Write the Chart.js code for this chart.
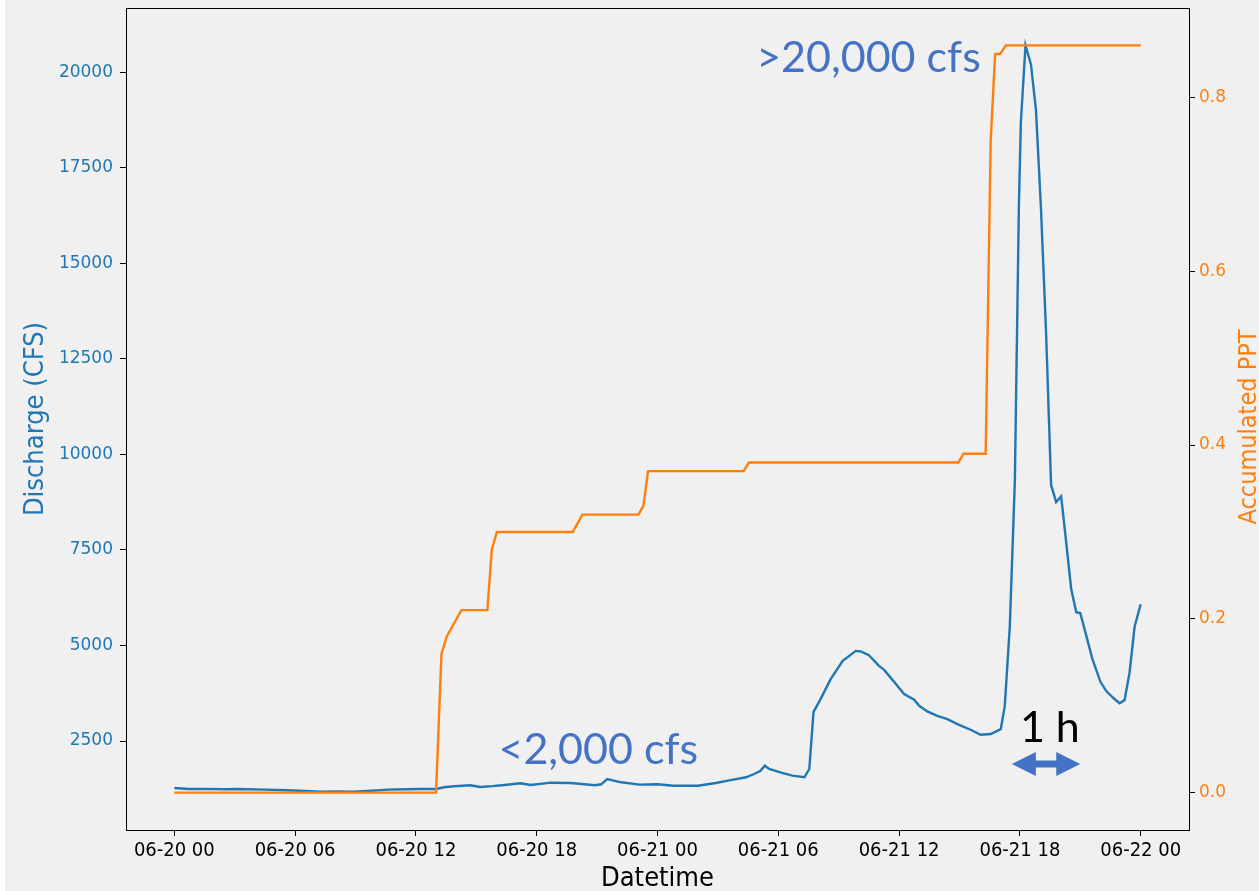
<!DOCTYPE html>
<html>
<head>
<meta charset="utf-8">
<script src="https://cdn.jsdelivr.net/npm/chart.js@4.4.1/dist/chart.umd.min.js"></script>
<style>
  html, body { margin: 0; padding: 0; background: #ffffff; }
  canvas { display: block; }
</style>
</head>
<body>
<canvas id="chart" width="1259" height="891"></canvas>
<script>
// hours since 06-20 00 and discharge (cfs)
const flowHours = [0.0, 0.7, 1.5, 2.5, 3.2, 4.5, 5.6, 6.5, 7.3, 8.1, 8.9, 9.8, 10.6, 11.5, 12.3, 13.0,
  13.4, 13.9, 14.7, 15.2, 15.8, 16.4, 17.2, 17.7, 18.7, 19.7, 20.9, 21.2, 21.5, 22.2, 23.1, 24.0,
  24.8, 26.0, 26.9, 27.5, 28.4, 28.8, 29.1, 29.33, 29.55, 30.1, 30.7, 31.3, 31.54, 31.75, 32.1,
  32.6, 33.2, 33.85, 34.1, 34.5, 35.0, 35.26, 35.75, 36.25, 36.75, 37.0, 37.4, 37.9, 38.4, 38.9,
  39.55, 40.05, 40.55, 41.05, 41.25, 41.5, 41.75, 41.95, 42.05, 42.28, 42.55, 42.8, 43.05, 43.3,
  43.55, 43.8, 44.05, 44.3, 44.55, 44.8, 45.0, 45.3, 45.6, 46.0, 46.3, 46.7, 46.95, 47.2, 47.45,
  47.7, 48.0];
const discharge = [1272, 1246, 1250, 1240, 1246, 1230, 1212, 1195, 1176, 1180, 1176, 1200, 1228, 1240, 1246, 1246,
  1291, 1317, 1343, 1298, 1320, 1351, 1395, 1351, 1411, 1403, 1343, 1369, 1507, 1421, 1359, 1369,
  1332, 1332, 1403, 1463, 1552, 1638, 1716, 1855, 1769, 1682, 1594, 1552, 1769, 3265, 3597,
  4119, 4597, 4859, 4843, 4746, 4467, 4362, 4049, 3728, 3579, 3422, 3276, 3161, 3075, 2944,
  2795, 2665, 2683, 2813, 3420, 5500, 9300, 16500, 18700, 20700, 20200, 19000, 16400, 13200,
  9200, 8750, 8900, 7700, 6470, 5870, 5850, 5250, 4650, 4050, 3800, 3600, 3490, 3570, 4300,
  5500, 6080];

// accumulated precipitation
const pptHours = [0, 13.0, 13.27, 13.54, 14.26, 15.55, 15.77, 16.02, 19.79, 20.27, 23.05, 23.3, 23.53,
  28.28, 28.54, 38.95, 39.2, 40.3, 40.55, 40.77, 41.02, 41.3, 48.0];
const pptValues = [0, 0, 0.16, 0.18, 0.21, 0.21, 0.28, 0.30, 0.30, 0.32, 0.32, 0.33, 0.37,
  0.37, 0.38, 0.38, 0.39, 0.39, 0.75, 0.85, 0.85, 0.86, 0.86];

const xTicks = [0, 6, 12, 18, 24, 30, 36, 42, 48];
const xTickLabels = ['06-20 00', '06-20 06', '06-20 12', '06-20 18', '06-21 00', '06-21 06', '06-21 12', '06-21 18', '06-22 00'];
const flowTicks = [2500, 5000, 7500, 10000, 12500, 15000, 17500, 20000];
const pptTicks = [0.0, 0.2, 0.4, 0.6, 0.8];

const BLUE = '#1f77b4';
const ORANGE = '#ff7f0e';
const NOTE = '#4472c4';

const setTicks = (list) => (scale) => { scale.ticks = list.map(v => ({ value: v })); };

// background, frame, axis titles and the slide annotations
const decor = {
  id: 'decor',
  beforeDraw(chart) {
    const ctx = chart.ctx;
    ctx.save();
    ctx.fillStyle = '#ffffff';
    ctx.fillRect(0, 0, chart.width, chart.height);
    ctx.fillStyle = '#f0f0f0';
    ctx.fillRect(5, 0, chart.width - 5, chart.height);
    ctx.restore();
  },
  afterDatasetsDraw(chart) {
    const { ctx, chartArea: a, scales } = chart;
    const x = scales.x, y = scales.y;
    ctx.save();
    ctx.strokeStyle = '#000';
    ctx.lineWidth = 1;
    ctx.strokeRect(a.left + 0.5, a.top + 0.5, a.right - a.left, a.bottom - a.top);

    ctx.font = '43px Lato';
    ctx.textBaseline = 'alphabetic';
    ctx.textAlign = 'left';
    ctx.fillStyle = NOTE;
    ctx.fillText('>20,000 cfs', x.getPixelForValue(28.9), y.getPixelForValue(20000));
    ctx.fillText('<2,000 cfs', x.getPixelForValue(16.1), y.getPixelForValue(1900));
    ctx.fillStyle = '#000';
    ctx.fillText('1 h', x.getPixelForValue(42.0), y.getPixelForValue(2475));

    // double arrow
    const x0 = x.getPixelForValue(41.6), x1 = x.getPixelForValue(45.0);
    const ay = y.getPixelForValue(1900);
    const head = 24, half = 12, shaft = 3.5;
    ctx.fillStyle = NOTE;
    ctx.beginPath();
    ctx.moveTo(x0, ay);
    ctx.lineTo(x0 + head, ay - half);
    ctx.lineTo(x0 + head, ay - shaft);
    ctx.lineTo(x1 - head, ay - shaft);
    ctx.lineTo(x1 - head, ay - half);
    ctx.lineTo(x1, ay);
    ctx.lineTo(x1 - head, ay + half);
    ctx.lineTo(x1 - head, ay + shaft);
    ctx.lineTo(x0 + head, ay + shaft);
    ctx.lineTo(x0 + head, ay + half);
    ctx.closePath();
    ctx.fill();
    ctx.restore();
  },
  afterDraw(chart) {
    const { ctx, chartArea: a } = chart;
    ctx.save();
    ctx.font = '27px "DejaVu Sans Condensed"';
    ctx.textAlign = 'center';
    ctx.textBaseline = 'alphabetic';
    ctx.fillStyle = '#000';
    ctx.fillText('Datetime', (a.left + a.right) / 2, 886);

    const midY = (a.top + a.bottom) / 2;
    ctx.fillStyle = BLUE;
    ctx.translate(43, midY);
    ctx.rotate(-Math.PI / 2);
    ctx.fillText('Discharge (CFS)', 0, 0);
    ctx.restore();

    ctx.save();
    ctx.font = '25px "DejaVu Sans Condensed"';
    ctx.textAlign = 'center';
    ctx.fillStyle = ORANGE;
    ctx.translate(1256, midY + 8);
    ctx.rotate(-Math.PI / 2);
    ctx.fillText('Accumulated PPT', 0, 0);
    ctx.restore();
  }
};

const axisGrid = { drawOnChartArea: false, drawTicks: true, tickLength: 6, color: '#000', lineWidth: 1 };
const noPad = (s) => { s.paddingTop = 0; s.paddingBottom = 0; };

new Chart(document.getElementById('chart'), {
  type: 'line',
  data: {
    datasets: [
      {
        label: 'Accumulated PPT',
        data: pptHours.map((h, i) => ({ x: h, y: pptValues[i] })),
        yAxisID: 'y2',
        borderColor: ORANGE,
        borderWidth: 2.4,
        pointRadius: 0,
        tension: 0,
        order: 1
      },
      {
        label: 'Discharge (CFS)',
        data: flowHours.map((h, i) => ({ x: h, y: discharge[i] })),
        yAxisID: 'y',
        borderColor: BLUE,
        borderWidth: 2.4,
        pointRadius: 0,
        tension: 0,
        order: 2
      }
    ]
  },
  options: {
    responsive: false,
    animation: false,
    layout: { padding: { top: 8, left: 0, right: 0, bottom: 0 } },
    plugins: { legend: { display: false }, tooltip: { enabled: false } },
    scales: {
      x: {
        type: 'linear',
        min: -2.4,
        max: 50.4,
        afterBuildTicks: setTicks(xTicks),
        afterFit: (s) => { s.height = 61; s.paddingLeft = 0; s.paddingRight = 0; },
        grid: axisGrid,
        border: { display: true, color: '#000' },
        ticks: {
          padding: 3,
          color: '#000',
          font: { family: 'DejaVu Sans Condensed', size: 20 },
          maxRotation: 0,
          autoSkip: false,
          callback: (v) => xTickLabels[xTicks.indexOf(v)]
        }
      },
      y: {
        position: 'left',
        min: 173,
        max: 21677,
        afterBuildTicks: setTicks(flowTicks),
        afterFit: (s) => { s.width = 126; noPad(s); },
        grid: axisGrid,
        border: { display: true, color: '#000' },
        ticks: {
          padding: 7,
          color: BLUE,
          font: { family: 'DejaVu Sans', size: 17 },
          autoSkip: false,
          callback: (v) => String(v)
        }
      },
      y2: {
        position: 'right',
        min: -0.043,
        max: 0.903,
        afterBuildTicks: setTicks(pptTicks),
        afterFit: (s) => { s.width = 70; noPad(s); },
        grid: axisGrid,
        border: { display: true, color: '#000' },
        ticks: {
          padding: 4,
          color: ORANGE,
          font: { family: 'DejaVu Sans', size: 17 },
          autoSkip: false,
          callback: (v) => v.toFixed(1)
        }
      }
    }
  },
  plugins: [decor]
});
</script>
</body>
</html>
